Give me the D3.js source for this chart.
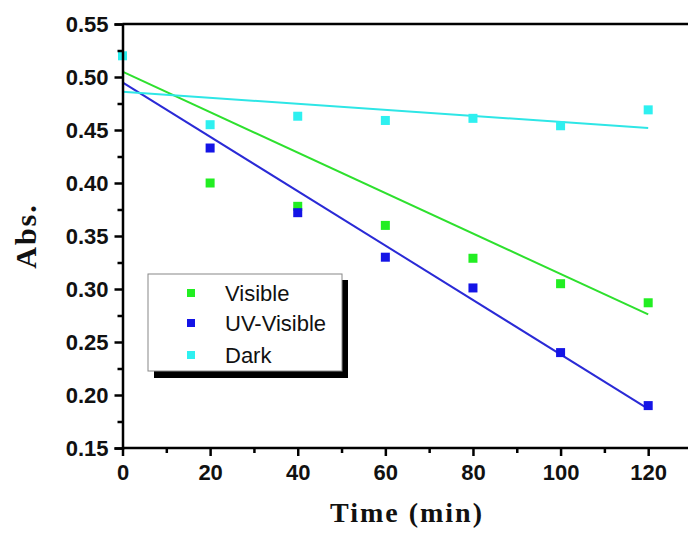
<!DOCTYPE html>
<html><head><meta charset="utf-8">
<script src="https://cdn.jsdelivr.net/npm/d3@7"></script>
<style>body{margin:0;background:#fff;}svg{display:block;}</style>
</head><body>
<svg id="c" width="688" height="538"></svg>
<script>
const times = [0, 20, 40, 60, 80, 100, 120];
const seriesNames = ["Visible", "UV-Visible", "Dark"];
const visible = [null, 0.400, 0.378, 0.360, 0.329, 0.305, 0.287];
const uvVisible = [null, 0.433, 0.372, 0.330, 0.301, 0.240, 0.190];
const dark = [0.520, 0.455, 0.463, 0.459, 0.461, 0.454, 0.469];
// linear fit lines: value at t=0 and t=120
const fitTimes = [0, 120];
const visibleFit = [0.505, 0.276];
const uvVisibleFit = [0.495, 0.187];
const darkFit = [0.486, 0.452];
const xTicks = [0, 20, 40, 60, 80, 100, 120];
const yTicks = [0.15, 0.20, 0.25, 0.30, 0.35, 0.40, 0.45, 0.50, 0.55];
const pointColors = ["#22ee22", "#1414e6", "#2ef0f0"];
const lineColors = ["#2ee02e", "#2a2ad6", "#2ee6e6"];

const series = [
  {name: seriesNames[0], vals: visible, fit: visibleFit},
  {name: seriesNames[1], vals: uvVisible, fit: uvVisibleFit},
  {name: seriesNames[2], vals: dark, fit: darkFit}
];

const svg = d3.select("#c");
const x = d3.scaleLinear().domain([0, 130]).range([122.5, 692]);
const y = d3.scaleLinear().domain([0.15, 0.55]).range([448, 24]);

// frame top
svg.append("line").attr("x1", x(0)).attr("x2", 700).attr("y1", y(0.55)).attr("y2", y(0.55))
  .attr("stroke", "#000").attr("stroke-width", 2.5);

// fit lines
const line = d3.line().x((d, i) => x(fitTimes[i])).y(d => y(d));
series.forEach((s, k) => {
  svg.append("path").datum(s.fit).attr("d", line).attr("fill", "none")
    .attr("stroke", lineColors[k]).attr("stroke-width", 2);
});

// points (Dark drawn last so it sits on top at t=0)
const ms = 9;
series.forEach((s, k) => {
  svg.append("g").selectAll("rect").data(times.map((t, i) => [t, s.vals[i]]).filter(d => d[1] != null))
    .join("rect")
    .attr("x", d => x(d[0]) - ms / 2).attr("y", d => y(d[1]) - ms / 2)
    .attr("width", ms).attr("height", ms).attr("fill", pointColors[k]);
});

// axes
const tickFont = "bold 22px 'Liberation Sans', Arial, sans-serif";
const yAxis = svg.append("g").attr("transform", `translate(${x(0)},0)`)
  .call(d3.axisLeft(y).tickValues(yTicks).tickFormat(d3.format(".2f")).tickSize(8).tickPadding(6));
const yMinor = svg.append("g").attr("transform", `translate(${x(0)},0)`)
  .call(d3.axisLeft(y).tickValues(yTicks.slice(0, -1).map(v => v + 0.025)).tickFormat("").tickSize(5));
const xAxis = svg.append("g").attr("transform", `translate(0,${y(0.15)})`)
  .call(d3.axisBottom(x).tickValues(xTicks).tickFormat(d3.format("d")).tickSize(8).tickPadding(8));
const xMinor = svg.append("g").attr("transform", `translate(0,${y(0.15)})`)
  .call(d3.axisBottom(x).tickValues(xTicks.slice(0, -1).map(v => v + 10)).tickFormat("").tickSize(5));
[yAxis, yMinor, xAxis, xMinor].forEach(g => {
  g.select(".domain").attr("stroke", "#000").attr("stroke-width", 2.5);
  g.selectAll(".tick line").attr("stroke", "#000").attr("stroke-width", 2.5);
  g.selectAll("text").style("font", tickFont).attr("fill", "#111");
});
xAxis.select(".domain").attr("d", `M${x(0)},0H700`);
xMinor.select(".domain").remove();
yMinor.select(".domain").remove();

// axis titles
svg.append("text").attr("x", 407).attr("y", 522).attr("text-anchor", "middle")
  .style("font", "bold 28px 'Liberation Serif', 'Times New Roman', serif").style("letter-spacing", "2px")
  .attr("fill", "#111").text("Time (min)");
svg.append("text").attr("transform", "translate(36,236) rotate(-90)").attr("text-anchor", "middle")
  .style("font", "bold 30px 'Liberation Serif', 'Times New Roman', serif").style("letter-spacing", "2px")
  .attr("fill", "#111").text("Abs.");

// legend
const lg = svg.append("g");
lg.append("rect").attr("x", 154).attr("y", 280).attr("width", 194).attr("height", 98).attr("fill", "#000");
lg.append("rect").attr("x", 148).attr("y", 274).attr("width", 194).attr("height", 97)
  .attr("fill", "#fff").attr("stroke", "#888").attr("stroke-width", 1);
const rowY = [293, 323, 355];
series.forEach((s, k) => {
  lg.append("rect").attr("x", 191 - 4).attr("y", rowY[k] - 4).attr("width", 8).attr("height", 8).attr("fill", pointColors[k]);
  lg.append("text").attr("x", 225).attr("y", rowY[k]).attr("dy", "0.36em")
    .style("font", "22px 'Liberation Sans', Arial, sans-serif").attr("fill", "#111").text(s.name);
});
</script>
</body></html>
